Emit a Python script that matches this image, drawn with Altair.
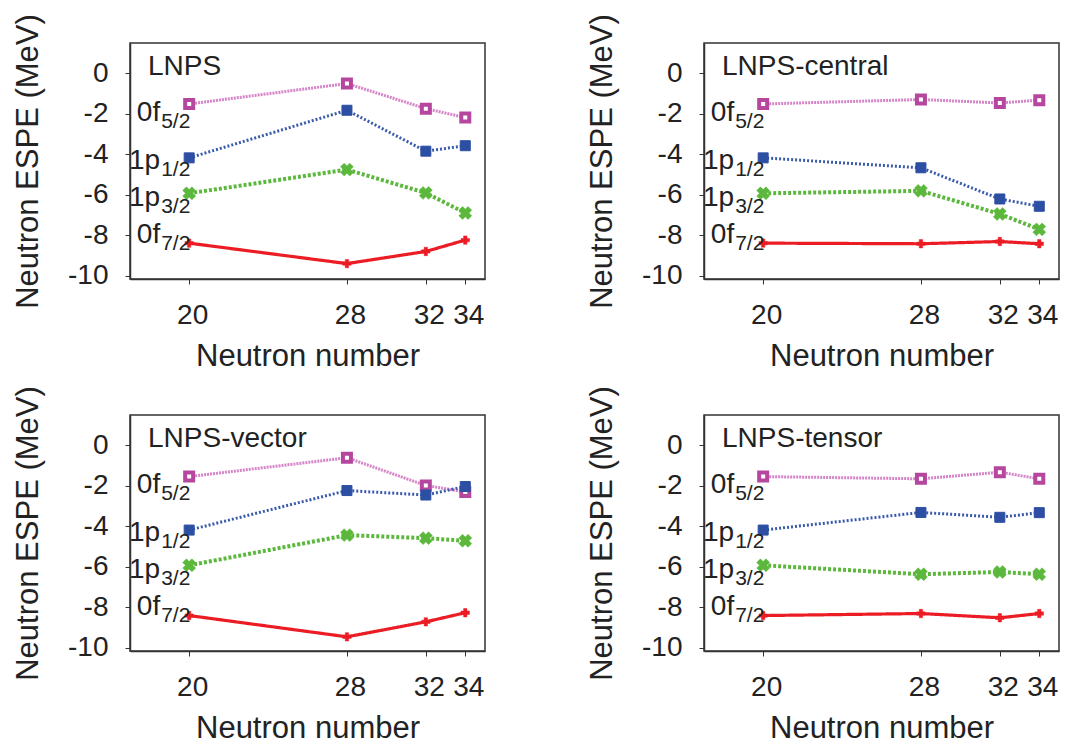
import altair as alt
import pandas as pd

# ---- data ----
neutron_number = [20, 28, 32, 34]
panel_names = ["LNPS", "LNPS-central", "LNPS-vector", "LNPS-tensor"]
orbits = ["0f5/2", "1p1/2", "1p3/2", "0f7/2"]

# ESPE values (MeV) per panel, per orbit, at N = 20, 28, 32, 34
lnps_f52 = [-1.51, -0.50, -1.74, -2.18]
lnps_p12 = [-4.17, -1.82, -3.84, -3.57]
lnps_p32 = [-5.92, -4.75, -5.90, -6.89]
lnps_f72 = [-8.38, -9.39, -8.79, -8.23]

central_f52 = [-1.51, -1.29, -1.46, -1.32]
central_p12 = [-4.17, -4.66, -6.20, -6.56]
central_p32 = [-5.92, -5.80, -6.94, -7.70]
central_f72 = [-8.38, -8.41, -8.30, -8.41]

vector_f52 = [-1.54, -0.61, -1.98, -2.30]
vector_p12 = [-4.18, -2.23, -2.45, -2.03]
vector_p32 = [-5.92, -4.43, -4.58, -4.71]
vector_f72 = [-8.40, -9.45, -8.71, -8.26]

tensor_f52 = [-1.54, -1.65, -1.32, -1.65]
tensor_p12 = [-4.18, -3.31, -3.55, -3.32]
tensor_p32 = [-5.92, -6.36, -6.25, -6.36]
tensor_f72 = [-8.40, -8.30, -8.51, -8.30]

panel_values = [
    [lnps_f52, lnps_p12, lnps_p32, lnps_f72],
    [central_f52, central_p12, central_p32, central_f72],
    [vector_f52, vector_p12, vector_p32, vector_f72],
    [tensor_f52, tensor_p12, tensor_p32, tensor_f72],
]

# orbit labels (left of the N=20 points)
label_main = ["0f", "1p", "1p", "0f"]
label_sub = ["5/2", "1/2", "3/2", "7/2"]
label_y = [-2.33, -4.70, -6.53, -8.37]
label_x = [20, 20, 20, 20]

y_ticks = [-10, -8, -6, -4, -2, 0]

FONT = "Liberation Sans"
TXT = "#222222"

styles = {
    "0f5/2": dict(line="#d685c8", dash=[2, 1], lw=3.0, shape="square", size=64,
                  fill="white", stroke="#b5479f", sw=4),
    "1p1/2": dict(line="#3a5aac", dash=[2, 2], lw=3.0, shape="square", size=100,
                  fill="#2c4fa3", stroke="#2c4fa3", sw=1),
    "1p3/2": dict(line="#5cb83c", dash=[3, 2], lw=4.0, shape="cross", size=170,
                  fill="#5cb83c", stroke="#5cb83c", sw=0.5, angle=45),
    "0f7/2": dict(line="#ec1c24", dash=[1, 0], lw=3.2, shape="cross", size=70,
                  fill="#ec1c24", stroke="#ec1c24", sw=0.5),
}

HYPHEN = "replace(datum.label, '\u2212', '-')"


def make_panel(name, values):
    rows = []
    for orb, vals in zip(orbits, values):
        for n, e in zip(neutron_number, vals):
            rows.append({"n": n, "e": e, "orbit": orb})
    df = pd.DataFrame(rows)

    x = alt.X("n:Q",
              scale=alt.Scale(domain=[17, 35], nice=False, zero=False),
              axis=alt.Axis(values=neutron_number, title="Neutron number",
                            labelOffset=3, labelPadding=17, titlePadding=12,
                            labelOverlap=False, labelFlush=False))
    y = alt.Y("e:Q",
              scale=alt.Scale(domain=[-10.15, 1.5], nice=False, zero=False),
              axis=alt.Axis(values=y_ticks, title="Neutron ESPE (MeV)",
                            labelPadding=17, titlePadding=23,
                            labelExpr=HYPHEN,
                            labelOverlap=False, labelFlush=False))

    layers = []
    for orb in orbits:
        s = styles[orb]
        base = alt.Chart(df).transform_filter(alt.datum.orbit == orb)
        layers.append(base.mark_line(color=s["line"], strokeDash=s["dash"],
                                     strokeWidth=s["lw"]).encode(x=x, y=y))
    for orb in orbits:
        s = styles[orb]
        base = alt.Chart(df).transform_filter(alt.datum.orbit == orb)
        kw = dict(shape=s["shape"], size=s["size"], filled=True, fill=s["fill"],
                  stroke=s["stroke"], strokeWidth=s["sw"], opacity=1)
        if "angle" in s:
            kw["angle"] = s["angle"]
        layers.append(base.mark_point(**kw).encode(x=x, y=y))

    lab = pd.DataFrame({"n": label_x, "e": label_y,
                        "main": label_main, "sub": label_sub})
    layers.append(alt.Chart(lab).mark_text(
        align="right", baseline="alphabetic", dx=-29, font=FONT,
        fontSize=28, color=TXT).encode(x=x, y=y, text="main:N"))
    layers.append(alt.Chart(lab).mark_text(
        align="left", baseline="alphabetic", dx=-28, dy=7, font=FONT,
        fontSize=21, color=TXT).encode(x=x, y=y, text="sub:N"))

    layers.append(alt.Chart(pd.DataFrame({"t": [name]})).mark_text(
        align="left", baseline="alphabetic", font=FONT, fontSize=28,
        color=TXT).encode(x=alt.value(18), y=alt.value(32), text="t:N"))

    return alt.layer(*layers).properties(width=355, height=236)


charts = [make_panel(nm, v) for nm, v in zip(panel_names, panel_values)]

chart = alt.concat(*charts, columns=2,
                   spacing={"row": 136, "column": 219},
                   bounds="flush").properties(
    padding={"left": 11, "top": 12, "right": 5, "bottom": 5},
    background="white",
).configure_view(
    stroke="#333333", strokeWidth=1.5
).configure_axis(
    labelFont=FONT, titleFont=FONT, labelFontSize=28, titleFontSize=31,
    titleFontWeight="normal", labelColor=TXT, titleColor=TXT,
    tickColor="#333333", domainColor="#333333", domainWidth=1.5,
    tickSize=5, tickWidth=1, grid=False,
)

chart.save("out.html", embed_options={"renderer": "svg", "actions": False})
